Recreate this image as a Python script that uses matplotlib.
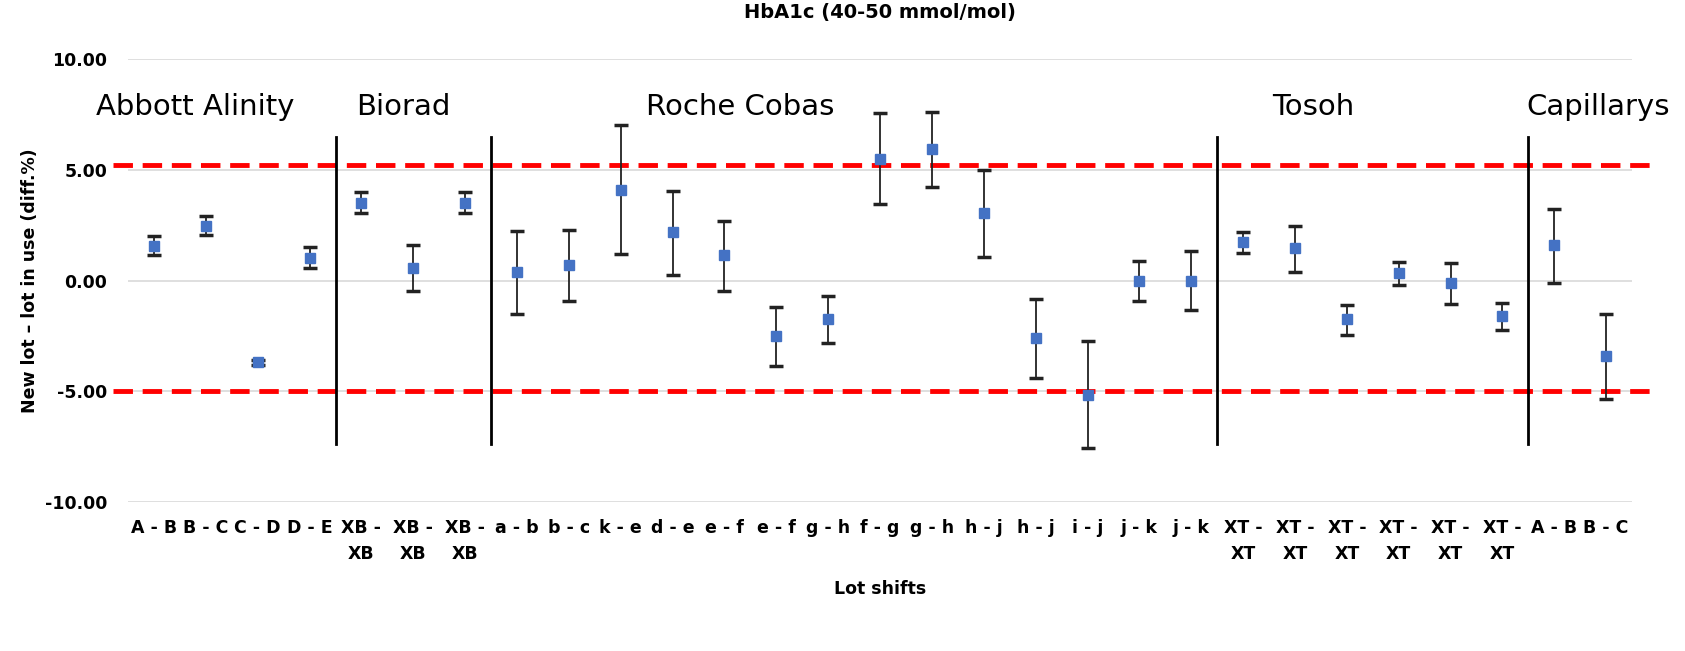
import matplotlib.pyplot as plt
import numpy as np

labels = ["A - B", "B - C", "C - D", "D - E",
          "XB -\nXB", "XB -\nXB", "XB -\nXB",
          "a - b", "b - c", "k - e", "d - e", "e - f", "e - f", "g - h",
          "f - g", "g - h", "h - j", "h - j", "i - j", "j - k", "j - k",
          "XT -\nXT", "XT -\nXT", "XT -\nXT", "XT -\nXT", "XT -\nXT", "XT -\nXT",
          "A - B", "B - C"]
values = [1.55, 2.45, -3.7, 1.0,
          3.5, 0.55, 3.5,
          0.4, 0.7, 4.1, 2.2, 1.15, -2.5, -1.75,
          5.5, 5.95, 3.05, -2.6, -5.15, 0.0, 0.0,
          1.75, 1.45, -1.75, 0.35, -0.1, -1.6,
          1.6, -3.4]
lower = [1.15, 2.05, -3.8, 0.55,
         3.05, -0.45, 3.05,
         -1.5, -0.9, 1.2, 0.25, -0.45, -3.85, -2.8,
         3.45, 4.25, 1.05, -4.4, -7.55, -0.9, -1.35,
         1.25, 0.4, -2.45, -0.2, -1.05, -2.25,
         -0.1, -5.35]
upper = [2.0, 2.9, -3.6, 1.5,
         4.0, 1.6, 4.0,
         2.25, 2.3, 7.05, 4.05, 2.7, -1.2, -0.7,
         7.55, 7.6, 5.0, -0.85, -2.75, 0.9, 1.35,
         2.2, 2.45, -1.1, 0.85, 0.8, -1.0,
         3.25, -1.5]
groups = ["Abbott Alinity", "Biorad", "Roche Cobas", "Tosoh", "Capillarys"]
group_sizes = [4, 3, 14, 6, 2]
group_label_x = [0.8, 4.8, 11.3, 22.35, 27.85]
limit_hi, limit_lo = 5.22, -5.0

x = np.arange(len(values))
v = np.array(values)
err = [v - np.array(lower), np.array(upper) - v]

fig, ax = plt.subplots(figsize=(16.85, 6.51), dpi=100)
fig.subplots_adjust(left=0.076, right=0.9686, top=0.909, bottom=0.229)

for yy in [-10, -5, 0, 5, 10]:
    ax.axhline(yy, color="#d9d9d9", lw=1.2, zorder=0)
ax.errorbar(x, v, yerr=err, fmt="s", color="#4472c4", ms=7,
            ecolor="#222222", elinewidth=1.3, capsize=5, capthick=2.5, zorder=3)
n = len(values)
for lim in [limit_hi, limit_lo]:
    ax.plot([-0.8, n - 0.05], [lim, lim], color="red", lw=3.5,
            ls=(0, (4, 2)), zorder=2, clip_on=False)

start = 0
for i, (g, k) in enumerate(zip(groups, group_sizes)):
    end = start + k
    if i < len(groups) - 1:
        ax.plot([end - 0.5, end - 0.5], [-7.4, 6.5], color="black", lw=2)
    ax.text(group_label_x[i], 7.85, g, ha="center", va="center", fontsize=21)
    start = end

ax.set_xlim(-0.5, n - 0.5)
ax.set_ylim(-10, 10)
ax.set_yticks([-10, -5, 0, 5, 10])
ax.set_yticklabels([f"{t:.2f}" for t in [-10, -5, 0, 5, 10]], fontweight="bold", fontsize=12.5)
ax.set_xticks(x)
ax.set_xticklabels(labels, fontweight="bold", fontsize=12.5, linespacing=1.6)
ax.tick_params(length=0, pad=12)
ax.tick_params(axis="y", pad=15)
for s in ["top", "right", "left", "bottom"]:
    ax.spines[s].set_visible(False)
ax.set_xlabel("Lot shifts", fontweight="bold", fontsize=12.5, labelpad=12)
ax.set_ylabel("New lot \u2013 lot in use (diff.%)", fontweight="bold", fontsize=12.5)
ax.set_title("HbA1c (40-50 mmol/mol)", fontweight="bold", fontsize=14, pad=30)

fig.savefig("out.png")
